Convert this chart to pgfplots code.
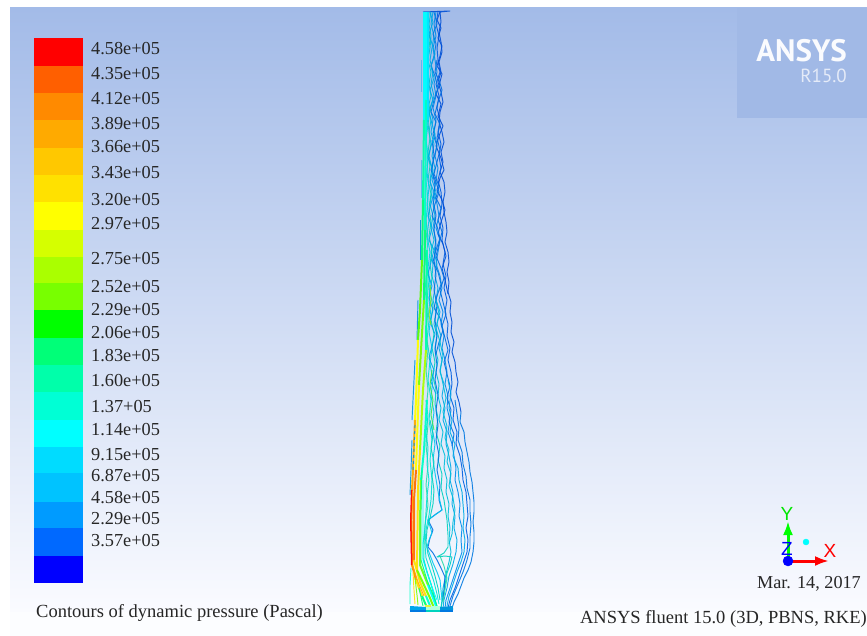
\documentclass[border=0pt]{standalone}
\usepackage{pgfplots}
\pgfplotsset{compat=1.18}
\usepackage{fontspec}
\setmainfont{Liberation Serif}
\newfontfamily\ansysfont{PT Sans}
\newfontfamily\triadfont{Liberation Sans}
\usetikzlibrary{arrows.meta}
\definecolor{bgtop}{HTML}{A3BBE8}
\definecolor{bgbot}{HTML}{FAFBFF}
\definecolor{logo}{HTML}{A1B9E6}
\newcommand{\hx}[1]{\definecolor{h#1}{HTML}{#1}}
\hx{FF0000}\hx{FF5F00}\hx{FF8A00}\hx{FFAA00}\hx{FFC800}\hx{FFE100}\hx{FFFF00}\hx{D5FF00}\hx{AAFF00}\hx{78FF00}
\hx{00FF00}\hx{00FF78}\hx{00FFAA}\hx{00FFD5}\hx{00FFFF}\hx{00DCFF}\hx{00C3FF}\hx{009BFF}\hx{0069FF}\hx{0000FF}
\hx{0050D7}\hx{0078E1}\hx{005FE1}\hx{008CEB}\hx{00AAE6}\hx{00BEDC}\hx{00D2BE}\hx{006EE1}\hx{00C8F0}\hx{00E1D7}\hx{28DCAA}\hx{82F01E}\hx{3CE650}\hx{0078E6}\hx{0096DC}\hx{0078DC}
\hx{00C8FF}\hx{5AFF00}\hx{FF6E00}\hx{FFE600}\hx{00FFC8}\hx{6EFF1E}\hx{00A5EB}\hx{B4FFDC}\hx{E6F53C}\hx{00E600}\hx{FFFFFF}\hx{00E6FF}\hx{5AB4F0}
\tikzset{ct/.style={line width=.95pt,line join=round,color=h#1,opacity=.9},
hb/.style={line width=2pt,line join=round,color=h#1,opacity=.95}}
\newcommand{\band}[3]{\addplot[fill=h#3,draw=none] coordinates {(34,#1)(83,#1)(83,#2)(34,#2)} --cycle;}
\newcommand{\lab}[2]{\node[anchor=base west,inner sep=0pt,text=black!85] at (axis cs:91,#1) {\fontsize{18.3}{20}\selectfont #2};}
\begin{document}
\begin{tikzpicture}
\path[use as bounding box] (0,0) rectangle (867pt,636pt);
\begin{axis}[scale only axis,width=867pt,height=636pt,xmin=0,xmax=867,ymin=0,ymax=636,y dir=reverse,axis lines=none,clip=true]
% background
\fill[top color=bgtop,bottom color=bgbot] (axis cs:10,8) rectangle (axis cs:867,612);
\fill[fill=bgbot!60!white] (axis cs:10,612) rectangle (axis cs:867,636);
\fill[logo] (axis cs:737,8) rectangle (axis cs:867,118);
\node[anchor=base east,inner sep=0pt,text=white!95!logo] at (axis cs:847,62) {\ansysfont\bfseries\fontsize{31}{32}\selectfont ANSYS};
\node[anchor=base east,inner sep=0pt,text=white!72!logo] at (axis cs:847,83) {\ansysfont\fontsize{19}{20}\selectfont R15.0};
% colour scale
\band{38}{66}{FF0000}
\band{66}{93}{FF5F00}
\band{93}{120}{FF8A00}
\band{120}{148}{FFAA00}
\band{148}{175}{FFC800}
\band{175}{202}{FFE100}
\band{202}{230}{FFFF00}
\band{230}{257}{D5FF00}
\band{257}{283}{AAFF00}
\band{283}{310}{78FF00}
\band{310}{338}{00FF00}
\band{338}{365}{00FF78}
\band{365}{392}{00FFAA}
\band{392}{420}{00FFD5}
\band{420}{447}{00FFFF}
\band{447}{473}{00DCFF}
\band{473}{502}{00C3FF}
\band{502}{528}{009BFF}
\band{528}{556}{0069FF}
\band{556}{583}{0000FF}
\lab{55}{4.58e+05}\lab{80}{4.35e+05}\lab{105}{4.12e+05}\lab{130}{3.89e+05}\lab{153}{3.66e+05}
\lab{179}{3.43e+05}\lab{206}{3.20e+05}\lab{230}{2.97e+05}\lab{265}{2.75e+05}\lab{292}{2.52e+05}
\lab{316}{2.29e+05}\lab{338}{2.06e+05}\lab{361}{1.83e+05}\lab{386}{1.60e+05}\lab{412}{1.37+05}
\lab{435}{1.14e+05}\lab{460}{9.15e+05}\lab{481}{6.87e+05}\lab{503}{4.58e+05}\lab{524}{2.29e+05}\lab{546}{3.57e+05}
\node[anchor=base west,inner sep=0pt,text=black!85] at (axis cs:36,617) {\fontsize{18.5}{20}\selectfont Contours of dynamic pressure (Pascal)};
\node[anchor=base east,inner sep=0pt,text=black!85] at (axis cs:861,588) {\fontsize{18.2}{20}\selectfont Mar. 14, 2017};
\node[anchor=base east,inner sep=0pt,text=black!85] at (axis cs:867,623) {\fontsize{18.5}{20}\selectfont ANSYS fluent 15.0 (3D, PBNS, RKE)};
% outer contours (blue, right side)
\addplot[ct=0050D7] coordinates {(423,12)(450,11)(440,12)(441,22)(439,32)(441,42)(442,52)(439,62)(441,72)(438,82)(441,92)(443,102)(440,112)(439,122)(442,132)(444,142)(441,152)(443,162)(440,172)(444,182)(445,192)(443,202)(444,212)(446,222)(447,232)(445,242)(448,252)(449,262)(447,272)(449,282)(448,292)(451,302)(450,312)(452,322)(451,332)(454,342)(452,352)(455,362)(456,372)(458,382)(456,392)(459,402)(461,412)};
\addplot[ct=0078E1] coordinates {(461,412)(460,422)(464,432)(465,442)(467,452)(469,462)(470,472)(472,482)(473,492)(474,502)(474,512)(473,522)(474,532)(474,542)(473,552)(471,562)(468,570)(464,578)(461,586)(458,594)(454,602)(452,608)};
\addplot[ct=005FE1] coordinates {(438,12)(436,24)(439,36)(437,48)(438,60)(440,72)(436,84)(439,96)(437,108)(440,120)(438,132)(441,144)(439,156)(441,168)(438,180)(441,192)(442,204)(440,216)(443,228)(442,240)(445,252)(443,264)(446,276)(444,288)(447,300)(445,312)(448,324)(447,336)(450,348)(448,360)(451,372)(452,384)(450,396)(454,408)(453,420)(457,432)(456,444)(460,456)(462,468)(463,480)(466,492)(467,504)(468,516)(466,528)(468,540)(467,552)(463,564)(459,576)(455,588)(450,600)(448,608)};
\addplot[ct=008CEB] coordinates {(436,12)(434,24)(436,36)(433,48)(435,60)(437,72)(434,84)(436,96)(433,108)(436,120)(434,132)(437,144)(435,156)(438,168)(436,180)(434,192)(437,204)(439,216)(436,228)(440,240)(438,252)(436,264)(440,276)(442,288)(439,300)(443,312)(441,324)(444,336)(442,348)(445,360)(447,372)(445,384)(448,396)(447,408)(450,420)(448,432)(452,444)(454,456)(456,468)(455,480)(458,492)(460,504)(459,516)(462,528)(461,540)(462,552)(458,564)(454,576)(450,588)(446,600)(445,608)};
\addplot[ct=00AAE6] coordinates {(433,12)(431,24)(434,36)(432,48)(430,60)(433,72)(431,84)(434,96)(430,108)(433,120)(431,132)(434,144)(432,156)(435,168)(432,180)(436,192)(433,204)(435,216)(433,228)(436,240)(434,252)(437,264)(435,276)(438,288)(436,300)(440,312)(437,324)(441,336)(439,348)(442,360)(440,372)(444,384)(442,396)(445,408)(443,420)(447,432)(446,444)(449,456)(451,468)(450,480)(453,492)(452,504)(455,516)(454,528)(457,540)(456,552)(453,564)(449,576)(447,588)(444,600)(443,608)};
\addplot[ct=00BEDC] coordinates {(431,12)(429,24)(431,36)(430,48)(428,60)(431,72)(429,84)(431,96)(428,108)(431,120)(429,132)(431,144)(429,156)(432,168)(430,180)(432,192)(430,204)(433,216)(431,228)(434,240)(431,252)(433,264)(432,276)(435,288)(433,300)(436,312)(434,324)(437,336)(435,348)(438,360)(436,372)(439,384)(438,396)(441,408)(439,420)(443,432)(441,444)(445,456)(444,468)(447,480)(446,492)(449,504)(448,516)(450,528)(449,540)(451,552)(449,562)(446,574)(443,588)(442,600)(441,608)};
\addplot[ct=00D2BE] coordinates {(429,12)(428,26)(430,40)(428,54)(427,68)(429,82)(427,96)(430,110)(428,124)(430,138)(428,152)(430,166)(428,180)(431,194)(429,208)(431,222)(429,236)(432,250)(430,264)(432,278)(430,292)(433,306)(431,320)(434,334)(432,348)(435,362)(433,376)(436,390)(435,404)(438,418)(436,432)(440,446)(438,460)(442,474)(441,488)(444,500)(447,520)(448,535)(448,547)(444,553)(437,557)(445,556)(452,557)(450,565)(447,573)(445,585)(443,597)(441,608)};
\addplot[ct=006EE1] coordinates {(432,140)(434,155)(432,170)(435,185)(433,200)(436,215)(434,230)(436,245)(434,260)(436,275)(434,290)(437,305)(435,320)(437,335)(435,350)(437,365)(435,380)(438,395)(436,410)(438,425)(436,440)(439,455)(437,470)(440,485)(439,500)(442,510)(436,514)(428,520)(433,530)(430,538)(428,547)(433,553)(437,560)(441,568)(445,577)(444,590)(443,600)};
\addplot[ct=00C8F0] coordinates {(427,12)(426,28)(428,44)(426,60)(425,76)(427,92)(426,108)(428,124)(426,140)(428,156)(427,172)(429,188)(427,204)(429,220)(427,236)(430,252)(428,268)(430,284)(429,300)(431,316)(429,332)(432,348)(430,364)(433,380)(431,396)(434,412)(432,428)(435,444)(433,460)(435,473)(437,485)(439,497)(442,510)(435,515)(428,520)(432,533)(429,540)(427,547)(430,555)(433,563)(437,572)(440,580)(441,590)(442,600)};
\addplot[ct=00E1D7] coordinates {(426,40)(425,60)(427,80)(425,100)(427,120)(426,140)(428,160)(426,180)(428,200)(426,220)(428,240)(426,260)(429,280)(427,300)(429,320)(427,340)(430,360)(428,380)(431,400)(429,420)(432,440)(430,460)(432,480)(431,500)(429,515)(426,530)(425,545)(426,558)(430,570)(434,582)(437,594)(439,604)};
\addplot[ct=28DCAA] coordinates {(425,210)(427,230)(425,250)(427,270)(425,290)(428,310)(426,330)(428,350)(426,370)(428,390)(426,410)(428,425)(426,445)(428,465)(426,485)(428,505)(425,525)(424,545)(424,560)(428,575)(433,590)(436,604)};
% crossing contours in the upper part
\addplot[ct=0050D7] coordinates {(440,12)(437,20)(441,28)(438,38)(442,46)(440,56)(437,66)(442,74)(439,86)(436,94)(441,104)(438,116)(443,126)(439,136)(436,146)(441,158)(444,170)(440,178)(437,190)(442,200)(445,210)(441,222)(438,234)(443,244)(446,256)(442,268)(445,280)(448,294)};
\addplot[ct=0078E1] coordinates {(434,12)(437,24)(433,34)(436,44)(434,56)(431,66)(435,76)(438,88)(434,100)(431,112)(436,122)(433,134)(437,146)(434,158)(431,170)(436,182)(439,192)(435,204)(432,216)(437,226)(440,238)(436,250)(433,262)(438,272)(441,284)(437,296)(434,308)(440,318)(443,330)(439,342)(436,354)};
\addplot[ct=00AAE6] coordinates {(430,12)(433,22)(429,34)(432,44)(435,54)(431,66)(434,78)(430,90)(433,100)(429,112)(432,124)(435,134)(431,146)(428,158)(433,170)(430,182)(434,192)(431,204)(428,216)(432,228)(429,240)(434,250)(431,262)(428,274)(432,286)(429,298)(433,310)(430,322)(435,334)(432,346)(429,358)(434,370)(431,382)(436,394)};
\addplot[ct=006EE1] coordinates {(437,60)(435,72)(439,80)(442,90)(438,102)(435,114)(440,124)(437,138)(440,150)(437,162)(434,174)(439,186)(436,198)(441,208)(438,220)(442,232)(439,244)(436,256)(441,268)(444,278)(440,290)(443,302)(446,314)(442,326)(445,338)(448,350)(444,362)(447,374)(450,386)(447,398)(451,410)(449,422)(454,434)(452,446)};
% extra contours in the lower part
\addplot[ct=00BEDC] coordinates {(436,300)(439,314)(436,328)(440,342)(443,356)(440,370)(443,384)(446,398)(443,412)(447,426)(445,438)(449,450)(447,462)(451,474)(449,486)(453,498)(455,510)(453,522)(452,534)(449,544)};
\addplot[ct=00AAE6] coordinates {(448,380)(451,394)(449,408)(452,420)(450,432)(455,444)(453,456)(458,468)(459,480)(462,492)(463,504)(464,516)(463,528)(465,540)(464,552)(461,562)(457,572)(453,584)(449,596)(447,606)};
\addplot[ct=0078E1] coordinates {(455,400)(457,414)(459,428)(458,440)(462,452)(463,464)(466,476)(467,488)(470,500)(470,512)(471,524)(470,536)(470,548)(467,560)(463,572)(458,584)(453,596)(450,606)};
\addplot[ct=00D2BE] coordinates {(430,420)(433,434)(431,448)(434,462)(432,476)(434,490)(433,504)(430,518)(427,530)(426,542)(428,554)(432,566)(435,576)(438,588)(440,600)};
\addplot[ct=00E1D7] coordinates {(426,400)(428,416)(426,432)(428,448)(427,464)(429,480)(427,496)(426,512)(425,528)(423,544)(423,558)(427,572)(431,584)(434,596)(437,606)};
\addplot[ct=28DCAA] coordinates {(440,556)(444,566)(447,578)(445,590)(443,602)};
% broken bright lines
\addplot[ct=82F01E] coordinates {(430,285)(431,300)(429,315)(431,325)};
\addplot[ct=3CE650] coordinates {(432,370)(430,385)(433,400)(431,415)(434,430)};
\addplot[ct=5AB4F0] coordinates {(421,60)(421,92)};
\addplot[ct=5AB4F0] coordinates {(421,160)(421,198)};
\addplot[ct=0096DC] coordinates {(420,220)(420,260)};
\addplot[ct=0096DC] coordinates {(418,300)(417,340)};
\addplot[ct=0096DC] coordinates {(415,360)(413,400)(412,420)};
\addplot[ct=0096DC] coordinates {(412,440)(411,470)(410,495)};
% hot band, innermost
\addplot[hb=00FFFF] coordinates {(424,12)(424,120)};
\addplot[hb=00FFAA] coordinates {(424,120)(423,200)};
\addplot[hb=00FF78] coordinates {(423,200)(422,260)};
\addplot[hb=5AFF00] coordinates {(422,260)(420,310)(418,340)};
\addplot[hb=FFFF00] coordinates {(418,340)(416,400)(415,420)};
\addplot[hb=FFAA00] coordinates {(415,420)(413,470)(412,490)};
\addplot[hb=FF0000] coordinates {(412,490)(411,520)(412,565)};
\addplot[hb=FF8A00] coordinates {(412,565)(416,580)};
\addplot[hb=FFE600] coordinates {(416,580)(422,596)};
\addplot[hb=00FF78] coordinates {(422,596)(428,610)};
\addplot[hb=00FFFF] coordinates {(426,12)(426,100)};
\addplot[hb=00FFC8] coordinates {(426,100)(425,230)};
\addplot[hb=00FF78] coordinates {(425,230)(424,300)};
\addplot[hb=78FF00] coordinates {(424,300)(421,350)(419,385)};
\addplot[hb=FFFF00] coordinates {(419,385)(417,440)(416,470)};
\addplot[hb=FF6E00] coordinates {(416,470)(414,500)(414,560)};
\addplot[hb=FFE100] coordinates {(414,560)(420,582)(426,596)};
\addplot[hb=00FFD5] coordinates {(426,596)(431,608)};
\addplot[hb=00E6FF] coordinates {(428,12)(428,120)};
\addplot[hb=00FFAA] coordinates {(427,250)(426,350)};
\addplot[hb=AAFF00] coordinates {(426,350)(423,390)(420,450)};
\addplot[hb=FFE100] coordinates {(420,450)(418,490)(417,570)};
\addplot[hb=78FF00] coordinates {(417,570)(424,585)(430,598)(434,608)};
\addplot[hb=00FFC8] coordinates {(427,400)(424,450)(421,480)};
\addplot[hb=6EFF1E] coordinates {(421,480)(420,520)(420,565)(428,585)};
\addplot[hb=00FFFF] coordinates {(428,585)(436,606)};
\addplot[ct=FFAA00] coordinates {(413,480)(412,520)(413,566)(418,582)(424,596)};
\addplot[ct=00FF78] coordinates {(422,470)(421,510)(421,560)(427,580)(432,592)(437,606)};
\addplot[ct=00FFFF] coordinates {(423,480)(423,520)(423,560)(430,582)(437,600)};
\addplot[ct=00FFC8] coordinates {(411,568)(410,585)(410,604)};
\addplot[ct=FFE600] coordinates {(413,572)(414,590)(415,604)};
\addplot[ct=78FF00] coordinates {(415,578)(417,595)(418,605)};
\addplot[ct=00FF78] coordinates {(419,588)(423,606)};
\addplot[ct=0096DC,dashed] coordinates {(415,425)(413,470)};
% base
\addplot[line width=4pt,color=h00A5EB] coordinates {(410,608)(426,609)};
\addplot[line width=4pt,color=h0096DC] coordinates {(440,609)(453,608)};
\addplot[line width=4pt,color=hB4FFDC] coordinates {(426,608)(440,608)};
\addplot[line width=1.5pt,color=h0078E1] coordinates {(410,611)(426,611)};
\addplot[line width=1.5pt,color=h0078E1] coordinates {(440,611)(453,611)};
\addplot[line width=1.5pt,color=h00D2BE] coordinates {(426,611)(440,611)};
\addplot[line width=2pt,color=hE6F53C] coordinates {(425,606)(431,606)};
% triad
\addplot[line width=3pt,color=h00FF00,-{Latex[length=14pt,width=10pt]}] coordinates {(788,561)(788,521)};
\addplot[line width=3pt,color=hFF0000,-{Latex[length=14pt,width=10pt]}] coordinates {(788,561)(829,561)};
\addplot[only marks,mark=*,mark size=5pt,mark options={draw=h0000FF,fill=h0000FF}] coordinates {(788,561)};
\addplot[only marks,mark=*,mark size=3pt,mark options={draw=h00FFFF,fill=h00FFFF}] coordinates {(806,542)};
\node[text=h0000FF,inner sep=0pt] at (axis cs:787,549) {\triadfont\fontsize{19}{19}\selectfont Z};
\node[text=h00E600,inner sep=0pt] at (axis cs:787,514) {\triadfont\fontsize{19}{19}\selectfont Y};
\node[text=hFF0000,inner sep=0pt] at (axis cs:830,551) {\triadfont\fontsize{19}{19}\selectfont X};
\end{axis}
\end{tikzpicture}
\end{document}
